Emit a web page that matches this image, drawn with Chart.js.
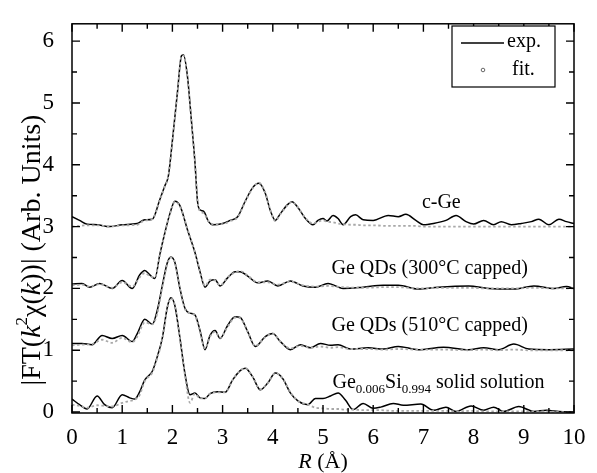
<!DOCTYPE html>
<html><head><meta charset="utf-8">
<script src="https://cdn.jsdelivr.net/npm/chart.js@4.4.0/dist/chart.umd.min.js"></script>
<style>html,body{margin:0;padding:0;background:#fff;}#wrap{width:597px;height:473px;}</style>
</head><body><div id="wrap"><canvas id="c" width="597" height="473"></canvas></div>
<script>
// ---- tick labels ----
const xTicks = [0,1,2,3,4,5,6,7,8,9,10];
const yTicks = [0,1,2,3,4,5,6];

// ---- c-Ge (offset 3) ----
const cgeR = [0,0.15,0.3,0.5,0.75,1.0,1.3,1.45,1.6,1.75,1.85,1.92,2.0,2.1,2.18,2.22,2.3,2.38,2.45,2.5,2.55,2.62,2.72,2.8,3.0,3.15,3.3,3.45,3.6,3.72,3.85,3.95,4.05,4.15,4.3,4.38,4.5,4.65,4.8,4.9,5.0,5.08,5.2,5.3,5.4,5.55,5.65,5.8,6.0,6.3,6.5,6.65,6.85,7.0,7.2,7.45,7.65,7.85,8.0,8.2,8.4,8.55,8.75,8.95,9.15,9.3,9.5,9.7,9.85,10];
const cgeExp = [3.16,3.10,3.04,3.03,3.0, 3.03,3.05,3.11,3.12,3.44, 3.66,3.82,4.39,5.17,5.76, 5.78,5.43,4.70,4.03,3.41, 3.27,3.25,3.08,3.03,3.05, 3.10,3.16,3.41,3.63,3.70, 3.54,3.26,3.10,3.21,3.36, 3.40,3.31,3.13,3.03,3.10, 3.13,3.09,3.18,3.13,3.03, 3.16,3.19,3.11,3.10,3.18, 3.16,3.20,3.10,3.03,3.05, 3.10,3.18,3.08,3.04,3.10, 3.03,3.08,3.03,3.05,3.08, 3.12,3.03,3.12,3.08,3.05];
const cgeFit = [3.0,3.01,3.02,3.02,3.0, 3.02,3.03,3.10,3.12,3.43, 3.65,3.82,4.38,5.16,5.75, 5.77,5.42,4.70,4.03,3.42, 3.25,3.22,3.09,3.04,3.04, 3.09,3.15,3.40,3.62,3.71, 3.55,3.27,3.09,3.20,3.35, 3.40,3.31,3.14,3.05,3.08, 3.10,3.08,3.07,3.05,3.04, 3.03,3.03,3.02,3.02,3.01, 3.01,3.01,3.01,3.0,3.0, 3.0,3.0,3.0,3.0,3.0, 3.0,3.0,3.0,3.0,3.0, 3.0,3.0,3.0,3.0,3.0];

// ---- Ge QDs 300°C (offset 2) ----
const q300R = [0,0.2,0.35,0.55,0.8,1.0,1.2,1.35,1.45,1.55,1.65,1.75,1.85,1.95,2.05,2.15,2.3,2.45,2.55,2.65,2.75,2.85,2.95,3.1,3.25,3.35,3.5,3.7,3.9,4.1,4.35,4.6,4.85,5.1,5.4,5.8,6.2,6.5,6.9,7.3,7.9,8.3,8.8,9.2,9.6,9.85,10];
const q300Exp = [2.07,2.08,2.02,2.08,2.0, 2.13,2.0,2.22,2.29,2.22, 2.16,2.55,2.9,3.21,3.41, 3.34,2.95,2.58,2.27,2.02, 2.12,2.14,2.04,2.17,2.27, 2.27,2.20,2.09,2.12,2.04, 2.12,2.04,2.02,2.08,2.0, 2.02,2.05,2.05,1.99,2.02, 2.04,2.0,1.99,2.04,2.0, 2.03,2.0];
const q300Fit = [2.05,2.06,2.03,2.07,2.01, 2.1,2.03,2.18,2.25,2.2, 2.18,2.52,2.9,3.2,3.4, 3.33,2.96,2.58,2.28,2.04, 2.14,2.13,2.05,2.18,2.26, 2.28,2.21,2.1,2.1,2.06, 2.11,2.05,2.03,2.04,2.02, 2.01,2.02,2.02,2.0,2.01, 2.01,2.0,2.0,2.01,2.0, 2.0,2.0];

// ---- Ge QDs 510°C (offset 1) ----
const q510R = [0,0.2,0.4,0.6,0.8,1.0,1.2,1.3,1.45,1.6,1.7,1.8,1.9,1.97,2.05,2.15,2.25,2.35,2.45,2.55,2.65,2.75,2.85,2.95,3.1,3.25,3.35,3.5,3.65,3.85,4.0,4.15,4.35,4.55,4.75,4.95,5.15,5.3,5.55,5.9,6.2,6.5,6.9,7.4,7.9,8.2,8.5,8.8,9.1,9.5,10];
const q510Exp = [1.11,1.11,1.09,1.24,1.19, 1.24,1.14,1.27,1.50,1.42, 1.65,2.05,2.42,2.51,2.42, 2.0,1.68,1.6,1.57,1.32, 1.01,1.24,1.32,1.19,1.40, 1.54,1.53,1.30,1.06,1.22, 1.27,1.14,1.01,1.09,1.04, 1.11,1.08,1.09,1.02,1.04, 1.02,1.06,1.01,1.05,1.01, 1.04,1.01,1.10,1.02,1.01, 1.02];
const q510Fit = [1.08,1.09,1.1,1.17,1.12, 1.2,1.13,1.22,1.45,1.42, 1.6,2.03,2.4,2.5,2.42, 2.0,1.67,1.6,1.56,1.3, 1.03,1.22,1.3,1.2,1.38, 1.53,1.52,1.3,1.07,1.21, 1.27,1.14,1.03,1.07,1.04, 1.06,1.04,1.05,1.02,1.02, 1.01,1.02,1.01,1.01,1.0, 1.01,1.0,1.01,1.0,1.0, 1.0];

// ---- Ge0.006Si0.994 solid solution (offset 0) ----
const gesiR = [0,0.15,0.3,0.5,0.65,0.8,1.0,1.15,1.25,1.35,1.45,1.6,1.7,1.8,1.9,1.97,2.05,2.15,2.25,2.35,2.45,2.55,2.65,2.75,2.9,3.05,3.2,3.35,3.45,3.6,3.75,3.9,4.05,4.2,4.35,4.5,4.7,4.85,5.0,5.15,5.3,5.45,5.6,5.8,6.0,6.15,6.4,6.6,6.95,7.2,7.45,7.65,7.95,8.2,8.4,8.6,8.9,9.2,9.45,9.7,10];
const gesiExp = [0.21,0.12,0.05,0.26,0.12, 0.07,0.28,0.23,0.21,0.33, 0.52,0.66,0.9,1.2,1.70, 1.85,1.72,1.20,0.62,0.28, 0.31,0.23,0.22,0.30,0.33, 0.32,0.52,0.67,0.71,0.57, 0.36,0.47,0.63,0.54,0.31, 0.18,0.12,0.22,0.22,0.26, 0.31,0.19,0.04,0.14,0.06, 0.08,0.14,0.11,0.13,0.03, 0.08,0.01,0.10,0.03,0.08, 0.01,0.09,0.01,0.03,0.01, 0.0];
const gesiFit = [0.12,0.1,0.07,0.11,0.1, 0.09,0.15,0.18,0.2,0.28, 0.5,0.64,0.88,1.18,1.68, 1.84,1.72,1.18,0.6,0.15, 0.3,0.22,0.22,0.3,0.32, 0.32,0.52,0.67,0.71,0.57, 0.37,0.47,0.63,0.54,0.32, 0.18,0.12,0.07,0.06,0.05, 0.05,0.04,0.04,0.03,0.03, 0.03,0.02,0.02,0.02,0.02, 0.02,0.01,0.02,0.01,0.01, 0.01,0.01,0.01,0.01,0.0, 0.0];

const SERIF = '"Liberation Serif", "Times New Roman", serif';
function pts(xs, ys){ return xs.map((x,i)=>({x:x, y:ys[i]})); }
function expDS(xs, ys){ return {data:pts(xs,ys), borderColor:'#000', borderWidth:1.5, pointRadius:0, cubicInterpolationMode:'monotone', order:2}; }
function fitDS(xs, ys){ return {data:pts(xs,ys), borderColor:'#a8a8a8', borderWidth:1.8, borderDash:[2.5,2.5], pointRadius:0, cubicInterpolationMode:'monotone', order:1}; }

function richWidth(ctx, parts){
  let w=0; parts.forEach(p=>{ctx.font=p.f; w+=ctx.measureText(p.t).width;}); return w;
}
function drawRich(ctx, parts, x, y){
  parts.forEach(p=>{ctx.font=p.f; ctx.fillText(p.t, x, y+(p.dy||0)); x+=ctx.measureText(p.t).width;});
}

const deco = {
  id:'deco',
  afterDraw(chart){
    const ctx=chart.ctx, a=chart.chartArea, xs=chart.scales.x, ys=chart.scales.y;
    ctx.save();
    ctx.strokeStyle='#000'; ctx.lineWidth=1.5;
    ctx.strokeRect(a.left, a.top, a.right-a.left, a.bottom-a.top);
    // inward tick marks on all sides
    ctx.lineWidth=1.4;
    ctx.beginPath();
    for(let v=0; v<=10.001; v+=0.5){
      const px=xs.getPixelForValue(v); const L=(Math.abs(v-Math.round(v))<1e-6)?8:5;
      ctx.moveTo(px,a.bottom); ctx.lineTo(px,a.bottom-L);
      ctx.moveTo(px,a.top); ctx.lineTo(px,a.top+L);
    }
    for(let v=0; v<=6.001; v+=0.5){
      const py=ys.getPixelForValue(v); const L=(Math.abs(v-Math.round(v))<1e-6)?8:5;
      ctx.moveTo(a.left,py); ctx.lineTo(a.left+L,py);
      ctx.moveTo(a.right,py); ctx.lineTo(a.right-L,py);
    }
    ctx.stroke();

    ctx.fillStyle='#000'; ctx.textBaseline='middle'; ctx.textAlign='left';
    const f20 = '20px '+SERIF, f13='13px '+SERIF;
    // curve labels
    ctx.font=f20;
    ctx.fillText('c-Ge', xs.getPixelForValue(6.97), ys.getPixelForValue(3.38));
    ctx.fillText('Ge QDs (300\u00B0C capped)', xs.getPixelForValue(5.17), ys.getPixelForValue(2.32));
    ctx.fillText('Ge QDs (510\u00B0C capped)', xs.getPixelForValue(5.17), ys.getPixelForValue(1.39));
    drawRich(ctx, [{t:'Ge',f:f20},{t:'0.006',f:f13,dy:7},{t:'Si',f:f20},{t:'0.994',f:f13,dy:7},{t:' solid solution',f:f20}],
      xs.getPixelForValue(5.19), ys.getPixelForValue(0.47));

    // legend
    const lx=452, ly=26, lw=103, lh=61;
    ctx.fillStyle='#fff'; ctx.fillRect(lx,ly,lw,lh);
    ctx.strokeStyle='#000'; ctx.lineWidth=1.2; ctx.strokeRect(lx,ly,lw,lh);
    ctx.beginPath(); ctx.moveTo(461,43); ctx.lineTo(504,43); ctx.lineWidth=1.4; ctx.stroke();
    ctx.beginPath(); ctx.arc(483,70,1.8,0,Math.PI*2); ctx.strokeStyle='#666'; ctx.lineWidth=1; ctx.stroke();
    ctx.fillStyle='#000'; ctx.font=f20;
    ctx.fillText('exp.', 507, 42);
    ctx.fillText('fit.', 512, 70);

    // x title
    const f22='22px '+SERIF, f22i='italic 22px '+SERIF;
    const xt=[{t:'R',f:f22i},{t:' (\u00C5)',f:f22}];
    const xw=richWidth(ctx,xt);
    drawRich(ctx, xt, (a.left+a.right)/2 - xw/2, 462);

    // y title (rotated)
    const f26='28px '+SERIF, f26i='italic 28px '+SERIF, f16='17px '+SERIF;
    const yt=[{t:'|FT(',f:f26},{t:'k',f:f26i},{t:'2',f:f16,dy:-10},{t:'\u03C7(',f:f26},{t:'k',f:f26i},{t:'))| (Arb. Units)',f:f26}];
    const yw=richWidth(ctx,yt);
    ctx.translate(33, 250); ctx.rotate(-Math.PI/2);
    drawRich(ctx, yt, -yw/2, 0);
    ctx.restore();
  }
};

new Chart(document.getElementById('c'), {
  type:'line',
  data:{ datasets:[
    expDS(cgeR,cgeExp), fitDS(cgeR,cgeFit),
    expDS(q300R,q300Exp), fitDS(q300R,q300Fit),
    expDS(q510R,q510Exp), fitDS(q510R,q510Fit),
    expDS(gesiR,gesiExp), fitDS(gesiR,gesiFit)
  ]},
  options:{
    responsive:false, animation:false, devicePixelRatio:1,
    layout:{padding:{top:9,right:23,left:0,bottom:0}},
    plugins:{legend:{display:false}, tooltip:{enabled:false}},
    scales:{
      x:{type:'linear', min:0, max:10,
         afterBuildTicks:s=>{s.ticks=xTicks.map(v=>({value:v}));},
         afterFit:s=>{s.height=60;},
         grid:{display:false}, border:{display:false},
         ticks:{color:'#000', font:{family:SERIF,size:23}, padding:3, maxRotation:0, autoSkip:false}},
      y:{type:'linear', min:-0.015, max:6.28,
         afterBuildTicks:s=>{s.ticks=yTicks.map(v=>({value:v}));},
         afterFit:s=>{s.width=72;},
         grid:{display:false}, border:{display:false},
         ticks:{color:'#000', font:{family:SERIF,size:23}, padding:10, autoSkip:false}}
    }
  },
  plugins:[deco]
});
</script></body></html>
